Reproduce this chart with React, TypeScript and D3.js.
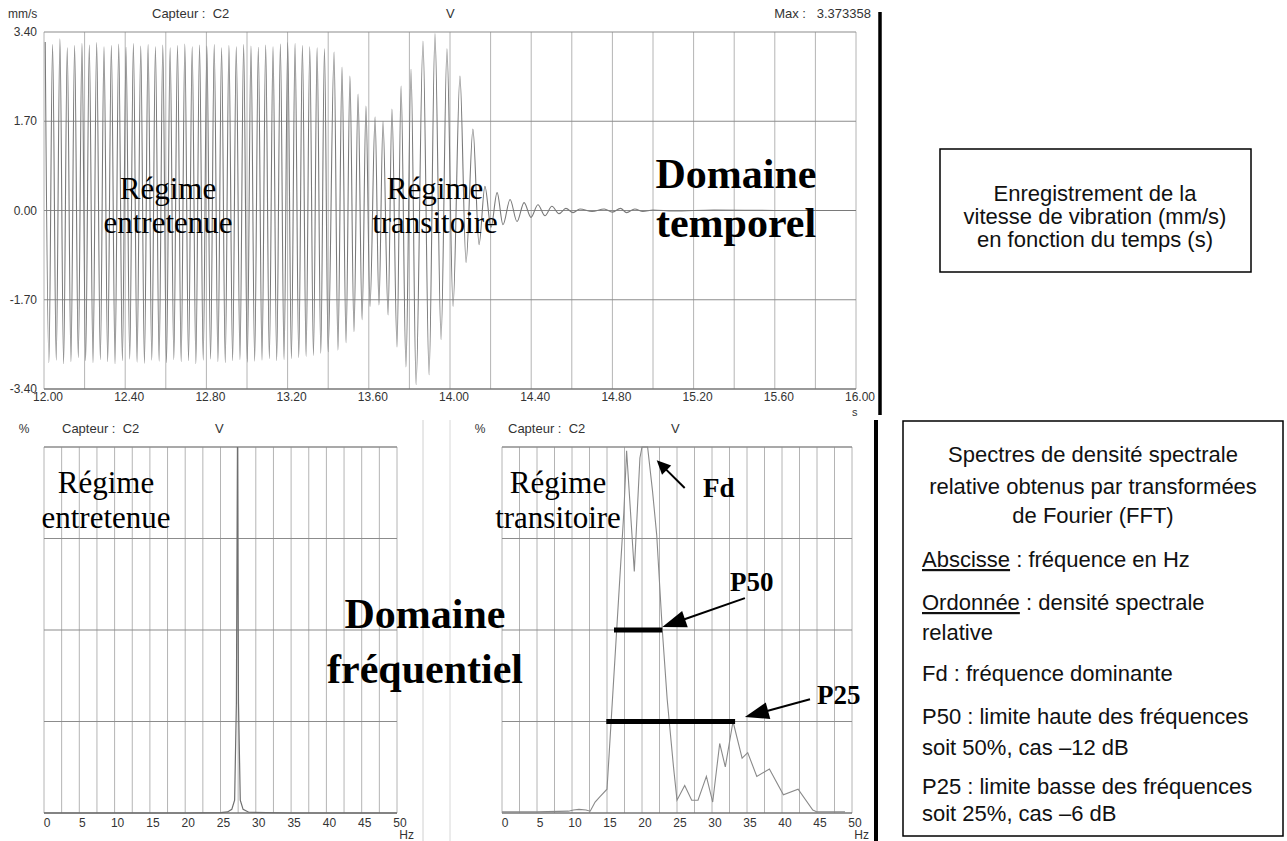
import React from 'react';
import * as d3 from 'd3';

const W = 1287;
const H = 841;

// ---------- Temporal record (mm/s vs s) ----------
const timeTickLabels = ['12.00', '12.40', '12.80', '13.20', '13.60', '14.00', '14.40', '14.80', '15.20', '15.60', '16.00'];
const timeTicks = [12.0, 12.4, 12.8, 13.2, 13.6, 14.0, 14.4, 14.8, 15.2, 15.6, 16.0];
const timeGrid = [12.0, 12.2, 12.4, 12.6, 12.8, 13.0, 13.2, 13.4, 13.6, 13.8, 14.0, 14.2, 14.4, 14.6, 14.8, 15.0, 15.2, 15.4, 15.6, 15.8, 16.0];
const velTicks = [3.4, 1.7, 0, -1.7, -3.4];
const velTickLabels = ['3.40', '1.70', '0.00', '-1.70', '-3.40'];

// steady-state oscillation: one positive and one negative extreme per cycle
const steadyStart = 12.006;
const steadyPeriod = 0.0362;
const steadyTop = [3.21, 3.16, 3.27, 3.10, 3.14, 3.18, 3.15, 3.20, 3.12, 3.14, 3.17, 3.11, 3.18, 3.13, 3.16, 3.12, 3.15, 3.10, 3.14, 3.17, 3.12, 3.15, 3.13, 3.16, 3.10, 3.14, 3.12, 3.16, 3.13, 3.11, 3.15, 3.12, 3.17, 3.20, 3.18, 3.14, 3.12, 3.10, 3.08];
const steadyBottom = [-2.90, -2.85, -2.92, -2.88, -2.80, -2.86, -2.90, -2.84, -2.88, -2.92, -2.86, -2.83, -2.89, -2.91, -2.85, -2.87, -2.90, -2.84, -2.88, -2.86, -2.92, -2.85, -2.83, -2.88, -2.90, -2.86, -2.84, -2.89, -2.87, -2.85, -2.82, -2.86, -2.84, -2.82, -2.80, -2.78, -2.76, -2.72, -2.69];

// transient part: extremes read from the record
const transientT = [13.429, 13.448, 13.468, 13.488, 13.507, 13.527, 13.547, 13.567, 13.586, 13.606, 13.631, 13.650, 13.670, 13.695, 13.714, 13.739, 13.759, 13.783, 13.808, 13.833, 13.867, 13.897, 13.926, 13.956, 13.985, 14.015, 14.049, 14.079, 14.113, 14.143, 14.172, 14.202, 14.232, 14.261, 14.296, 14.330, 14.365, 14.399, 14.433, 14.468, 14.502, 14.537, 14.571, 14.606, 14.640, 14.70, 14.76, 14.80, 14.84, 14.87, 14.91, 14.95, 15.00, 15.10, 15.30, 15.60, 16.00];
const transientV = [3.02, -2.66, 2.73, -2.52, 2.56, -2.31, 2.22, -2.08, 1.99, -1.83, 1.78, -1.80, 1.70, -1.99, 1.93, -2.60, 2.37, -2.98, 2.69, -3.32, 3.23, -3.13, 3.37, -2.46, 3.08, -1.83, 2.56, -0.99, 1.55, -0.65, 0.46, -0.32, 0.34, -0.27, 0.21, -0.21, 0.15, -0.13, 0.11, -0.10, 0.08, -0.06, 0.04, -0.04, 0.03, -0.02, 0.03, -0.03, 0.04, -0.04, 0.03, -0.02, 0.01, -0.01, 0.01, 0.0, 0.0];

// ---------- Spectra (% vs Hz) ----------
const freqTicks = [0, 5, 10, 15, 20, 25, 30, 35, 40, 45, 50];
const freqGrid = [0, 2.5, 5, 7.5, 10, 12.5, 15, 17.5, 20, 22.5, 25, 27.5, 30, 32.5, 35, 37.5, 40, 42.5, 45, 47.5, 50];
const pctGrid = [25, 50, 75];

const steadyFreq = [0, 10, 20, 25, 26, 26.6, 27.0, 27.25, 27.4, 27.55, 27.8, 28.2, 29, 35, 50];
const steadyPct = [0, 0, 0, 0.1, 0.3, 1.0, 3.5, 30, 100, 30, 3.5, 1.0, 0.2, 0, 0];

const transFreq = [0, 5, 9.5, 10.2, 11, 12, 12.6, 13.3, 14, 15, 17.4, 17.8, 18.9, 19.7, 20, 20.8, 21.5, 22.1, 22.9, 23.6, 24.5, 25, 26.1, 27.1, 28, 29.2, 30.1, 31.1, 31.9, 33, 34.3, 35.1, 36.4, 38.2, 40.2, 42.3, 44.4, 45, 49];
const transPct = [0.3, 0.3, 0.5, 0.8, 1.0, 0.8, 0.5, 3, 4.5, 6.5, 82, 99, 66, 97, 100, 100, 88, 76, 50, 31, 12.6, 3.5, 7.5, 3.5, 3.5, 10, 3, 19, 12.6, 25, 15, 16.5, 10, 12, 5, 6.5, 0.8, 0.3, 0.3];

// annotation values (Hz, %)
const p50Range = [16.0, 22.9];
const p25Range = [14.9, 33.3];

const SANS = '"Liberation Sans", Arial, sans-serif';
const SERIF = '"Liberation Serif", "Times New Roman", serif';

function Arrow({ x1, y1, x2, y2, head, width, sw }: { x1: number; y1: number; x2: number; y2: number; head: number; width: number; sw: number }) {
  const dx = x2 - x1;
  const dy = y2 - y1;
  const L = Math.sqrt(dx * dx + dy * dy);
  const ux = dx / L;
  const uy = dy / L;
  const bx = x2 - ux * head;
  const by = y2 - uy * head;
  const px = -uy * width / 2;
  const py = ux * width / 2;
  return (
    <g>
      <line x1={x1} y1={y1} x2={bx + ux * 2} y2={by + uy * 2} stroke="#000" strokeWidth={sw} />
      <polygon points={`${x2},${y2} ${bx + px},${by + py} ${bx - px},${by - py}`} fill="#000" />
    </g>
  );
}

export default function App() {
  // top chart scales
  const xT = d3.scaleLinear().domain([12, 16]).range([44, 856]);
  const yT = d3.scaleLinear().domain([-3.4, 3.4]).range([389, 32]);

  const wavePts: [number, number][] = [];
  steadyTop.forEach((v, i) => {
    wavePts.push([steadyStart + i * steadyPeriod, v]);
    wavePts.push([steadyStart + i * steadyPeriod + steadyPeriod / 2, steadyBottom[i]]);
  });
  transientT.forEach((t, i) => wavePts.push([t, transientV[i]]));

  const waveLine = d3
    .line<[number, number]>()
    .x((d) => xT(d[0]))
    .y((d) => yT(d[1]))
    .curve(d3.curveMonotoneX);

  // spectra scales
  const xL = d3.scaleLinear().domain([0, 50]).range([44, 397]);
  const xR = d3.scaleLinear().domain([0, 50]).range([502, 852]);
  const yS = d3.scaleLinear().domain([0, 100]).range([813, 447]);

  const specLineL = d3
    .line<number>()
    .x((d, i) => xL(steadyFreq[i]))
    .y((d) => yS(d))
    .curve(d3.curveLinear);
  const specLineR = d3
    .line<number>()
    .x((d, i) => xR(transFreq[i]))
    .y((d) => yS(d))
    .curve(d3.curveLinear);

  const gridV = '#b4b4b4';
  const gridH = '#8c8c8c';
  const tickCol = '#333';

  const spectrumFrame = (x: d3.ScaleLinear<number, number>, key: string) => (
    <g key={key}>
      {freqGrid.map((f) => (
        <line key={'v' + f} x1={x(f)} x2={x(f)} y1={yS(100)} y2={yS(0)} stroke={gridV} strokeWidth={1} />
      ))}
      {pctGrid.map((p) => (
        <line key={'h' + p} x1={x(0)} x2={x(50)} y1={yS(p)} y2={yS(p)} stroke={gridH} strokeWidth={1.2} />
      ))}
      <line x1={x(0)} x2={x(50)} y1={yS(100)} y2={yS(100)} stroke={gridH} strokeWidth={1.3} />
      <line x1={x(0)} x2={x(50)} y1={yS(0)} y2={yS(0)} stroke="#777" strokeWidth={1.5} />
      {freqTicks.map((f) => (
        <text key={'t' + f} x={x(f) + 3} y={827} fontSize={12} fontFamily={SANS} fill={tickCol} textAnchor="middle">
          {f}
        </text>
      ))}
      <text x={x(50) + 17} y={839} fontSize={12} fontFamily={SANS} fill={tickCol} textAnchor="end">
        Hz
      </text>
    </g>
  );

  return (
    <svg width={W} height={H} style={{ position: 'absolute', left: 0, top: 0, background: '#fff' }} xmlns="http://www.w3.org/2000/svg">
      <rect x={0} y={0} width={W} height={H} fill="#fff" />

      {/* ================= TOP: temporal record ================= */}
      <g>
        {timeGrid.map((t) => (
          <line key={'tg' + t} x1={xT(t)} x2={xT(t)} y1={yT(3.4)} y2={yT(-3.4)} stroke={gridV} strokeWidth={1} />
        ))}
        {[1.7, 0, -1.7].map((v) => (
          <line key={'hg' + v} x1={xT(12)} x2={xT(16)} y1={yT(v)} y2={yT(v)} stroke={gridH} strokeWidth={1.2} />
        ))}
        <line x1={xT(12)} x2={xT(16)} y1={yT(3.4)} y2={yT(3.4)} stroke={gridH} strokeWidth={1.2} />
        <line x1={xT(12)} x2={xT(16)} y1={yT(-3.4)} y2={yT(-3.4)} stroke="#777" strokeWidth={1.5} />
        <path d={waveLine(wavePts) || ''} fill="none" stroke="#7a7a7a" strokeWidth={1.1} />

        {velTicks.map((v, i) => (
          <text key={'vl' + v} x={37} y={yT(v) + 4} fontSize={12} fontFamily={SANS} fill={tickCol} textAnchor="end">
            {velTickLabels[i]}
          </text>
        ))}
        {timeTicks.map((t, i) => (
          <text key={'tl' + t} x={xT(t) + 4} y={401} fontSize={12} fontFamily={SANS} fill={tickCol} textAnchor="middle">
            {timeTickLabels[i]}
          </text>
        ))}
        <text x={852} y={416} fontSize={11} fontFamily={SANS} fill={tickCol}>s</text>

        <text x={8} y={18} fontSize={12} fontFamily={SANS} fill={tickCol}>mm/s</text>
        <text x={152} y={18} fontSize={13} fontFamily={SANS} fill={tickCol} style={{ whiteSpace: 'pre' }}>Capteur :  C2</text>
        <text x={446} y={18} fontSize={13} fontFamily={SANS} fill={tickCol}>V</text>
        <text x={871} y={18} fontSize={13} fontFamily={SANS} fill={tickCol} textAnchor="end" style={{ whiteSpace: 'pre' }}>Max :   3.373358</text>

        <text fontFamily={SERIF} fontSize={31} fill="#000" textAnchor="middle">
          <tspan x={168} y={199}>Régime</tspan>
          <tspan x={168} y={233}>entretenue</tspan>
        </text>
        <text fontFamily={SERIF} fontSize={31} fill="#000" textAnchor="middle">
          <tspan x={435} y={199}>Régime</tspan>
          <tspan x={435} y={233}>transitoire</tspan>
        </text>
        <text fontFamily={SERIF} fontSize={42} fontWeight="bold" fill="#000" textAnchor="middle">
          <tspan x={736} y={188}>Domaine</tspan>
          <tspan x={736} y={237}>temporel</tspan>
        </text>
      </g>

      {/* separators */}
      <line x1={880} x2={880} y1={12} y2={415} stroke="#000" strokeWidth={3.5} />
      <line x1={876} x2={876} y1={420} y2={841} stroke="#000" strokeWidth={4} />
      <line x1={423} x2={423} y1={420} y2={841} stroke="#d0d0d0" strokeWidth={1} />
      <line x1={450} x2={450} y1={420} y2={841} stroke="#d8d8d8" strokeWidth={1} />

      {/* ================= BOTTOM LEFT: steady spectrum ================= */}
      {spectrumFrame(xL, 'L')}
      <path d={specLineL(steadyPct) || ''} fill="none" stroke="#6e6e6e" strokeWidth={1.2} />
      <text x={24} y={433} fontSize={12} fontFamily={SANS} fill={tickCol} textAnchor="middle">%</text>
      <text x={62} y={433} fontSize={13} fontFamily={SANS} fill={tickCol} style={{ whiteSpace: 'pre' }}>Capteur :  C2</text>
      <text x={215} y={433} fontSize={13} fontFamily={SANS} fill={tickCol}>V</text>

      {/* ================= BOTTOM RIGHT: transient spectrum ================= */}
      {spectrumFrame(xR, 'R')}
      <path d={specLineR(transPct) || ''} fill="none" stroke="#8a8a8a" strokeWidth={1.1} />
      <text x={480} y={433} fontSize={12} fontFamily={SANS} fill={tickCol} textAnchor="middle">%</text>
      <text x={508} y={433} fontSize={13} fontFamily={SANS} fill={tickCol} style={{ whiteSpace: 'pre' }}>Capteur :  C2</text>
      <text x={671} y={433} fontSize={13} fontFamily={SANS} fill={tickCol}>V</text>

      <text fontFamily={SERIF} fontSize={31} fill="#000" textAnchor="middle">
        <tspan x={106} y={493}>Régime</tspan>
        <tspan x={106} y={528}>entretenue</tspan>
      </text>
      <text fontFamily={SERIF} fontSize={31} fill="#000" textAnchor="middle">
        <tspan x={558} y={493}>Régime</tspan>
        <tspan x={558} y={528}>transitoire</tspan>
      </text>
      <text fontFamily={SERIF} fontSize={42} fontWeight="bold" fill="#000" textAnchor="middle">
        <tspan x={425} y={628}>Domaine</tspan>
        <tspan x={425} y={683}>fréquentiel</tspan>
      </text>

      {/* P50 / P25 bars */}
      <line x1={xR(p50Range[0])} x2={xR(p50Range[1])} y1={yS(50)} y2={yS(50)} stroke="#000" strokeWidth={5} />
      <line x1={xR(p25Range[0])} x2={xR(p25Range[1])} y1={yS(25)} y2={yS(25)} stroke="#000" strokeWidth={5} />

      {/* annotations */}
      <Arrow x1={xR(26.1)} y1={yS(88.8)} x2={xR(22.1)} y2={yS(96.4)} head={14} width={13} sw={2} />
      <Arrow x1={xR(34.7)} y1={yS(58.7)} x2={xR(22.9)} y2={yS(50.8)} head={24} width={17} sw={2} />
      <Arrow x1={xR(44)} y1={yS(31.1)} x2={xR(34.7)} y2={yS(26.2)} head={24} width={17} sw={2} />
      <text x={xR(28.7)} y={497} fontFamily={SERIF} fontSize={27} fontWeight="bold" fill="#000">Fd</text>
      <text x={730} y={591} fontFamily={SERIF} fontSize={27} fontWeight="bold" fill="#000">P50</text>
      <text x={817} y={704} fontFamily={SERIF} fontSize={27} fontWeight="bold" fill="#000">P25</text>

      {/* ================= Right text boxes ================= */}
      <rect x={940} y={149} width={311} height={123} fill="none" stroke="#000" strokeWidth={1.5} />
      <text fontFamily={SANS} fontSize={22} fill="#111" textAnchor="middle">
        <tspan x={1095} y={201}>Enregistrement de la</tspan>
        <tspan x={1095} y={224}>vitesse de vibration (mm/s)</tspan>
        <tspan x={1095} y={247}>en fonction du temps (s)</tspan>
      </text>

      <rect x={903} y={421} width={380} height={415} fill="none" stroke="#000" strokeWidth={1.5} />
      <text fontFamily={SANS} fontSize={22} fill="#111" textAnchor="middle">
        <tspan x={1093} y={462}>Spectres de densité spectrale</tspan>
        <tspan x={1093} y={494}>relative obtenus par transformées</tspan>
        <tspan x={1093} y={523}>de Fourier (FFT)</tspan>
      </text>
      <text fontFamily={SANS} fontSize={22} fill="#111">
        <tspan x={922} y={567} textDecoration="underline">Abscisse</tspan>
        <tspan> : fréquence en Hz</tspan>
      </text>
      <text fontFamily={SANS} fontSize={22} fill="#111">
        <tspan x={922} y={610} textDecoration="underline">Ordonnée</tspan>
        <tspan> : densité spectrale</tspan>
        <tspan x={922} y={640}>relative</tspan>
      </text>
      <text fontFamily={SANS} fontSize={22} fill="#111">
        <tspan x={922} y={681}>Fd : fréquence dominante</tspan>
        <tspan x={922} y={724}>P50 : limite haute des fréquences</tspan>
        <tspan x={922} y={755}>soit 50%, cas –12 dB</tspan>
        <tspan x={922} y={794}>P25 : limite basse des fréquences</tspan>
        <tspan x={922} y={821}>soit 25%, cas –6 dB</tspan>
      </text>
    </svg>
  );
}
